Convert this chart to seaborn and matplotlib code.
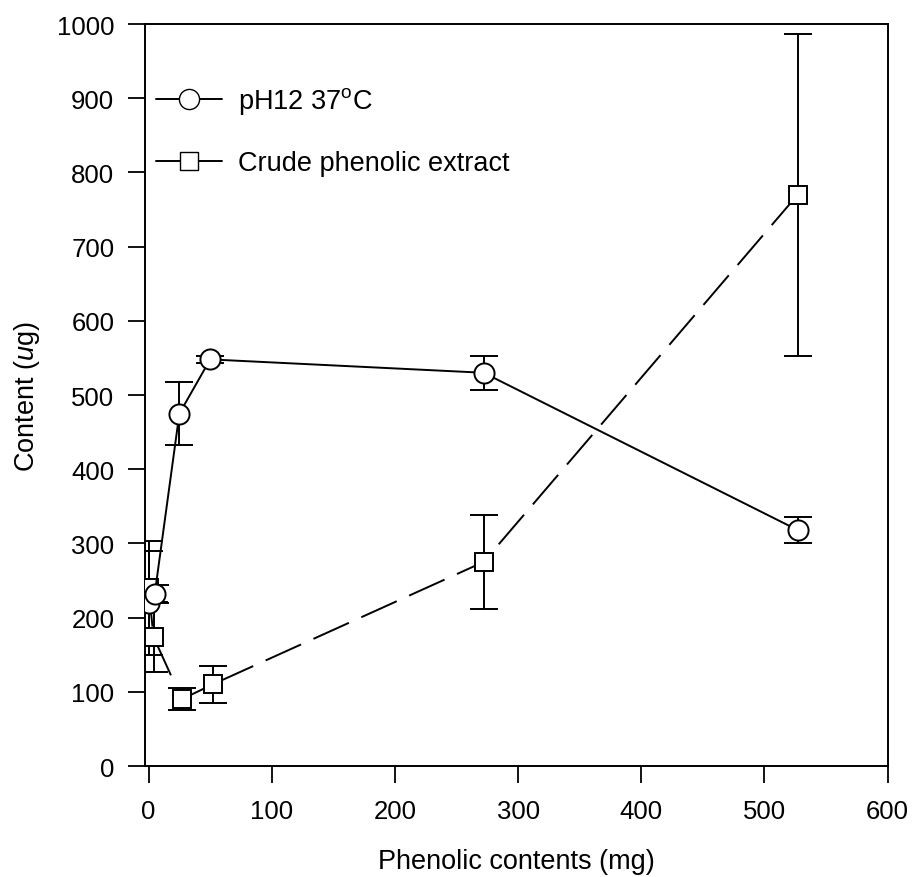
import numpy as np
import pandas as pd
import matplotlib
matplotlib.use("Agg")
import matplotlib.pyplot as plt
import seaborn as sns
from matplotlib.lines import Line2D

# ---- data ----
ph_x = [0, 5, 25, 50, 272, 527]
ph_y = [220, 232, 475, 548, 530, 318]
ph_err = [70, 12, 43, 5, 23, 18]

crude_x = [0, 4, 27, 52, 272, 527]
crude_y = [240, 174, 90, 110, 275, 770]
crude_err = [63, 47, 15, 25, 63, 217]

x_ticks = [0, 100, 200, 300, 400, 500, 600]
y_ticks = [0, 100, 200, 300, 400, 500, 600, 700, 800, 900, 1000]
series_names = [r"pH12 37$^{\mathrm{o}}$C", "Crude phenolic extract"]

sns.set_style("ticks")
plt.rcParams["font.family"] = ["Liberation Sans", "DejaVu Sans"]
plt.rcParams["mathtext.fontset"] = "custom"
plt.rcParams["mathtext.rm"] = "Liberation Sans"
plt.rcParams["mathtext.it"] = "Liberation Sans:italic"
plt.rcParams["text.color"] = "black"
plt.rcParams["axes.labelcolor"] = "black"

fig = plt.figure(figsize=(9.17, 8.78), dpi=100)
ax = fig.add_axes([0.158, 0.1264, 0.810, 0.8451])

df_ph = pd.DataFrame({"x": ph_x, "y": ph_y})
df_cr = pd.DataFrame({"x": crude_x, "y": crude_y})

lw = 1.4
# error bars
ax.errorbar(crude_x, crude_y, yerr=crude_err, fmt="none", ecolor="black",
            elinewidth=lw, capsize=10, capthick=lw, zorder=2)
ax.errorbar(ph_x, ph_y, yerr=ph_err, fmt="none", ecolor="black",
            elinewidth=lw, capsize=10, capthick=lw, zorder=2)

sns.lineplot(data=df_cr, x="x", y="y", ax=ax, color="black", lw=lw,
             marker="s", markersize=12.5, markerfacecolor="white",
             markeredgecolor="black", markeredgewidth=lw, sort=False,
             zorder=3)
ax.lines[-1].set_dashes((20, 7))
sns.lineplot(data=df_ph, x="x", y="y", ax=ax, color="black", lw=lw,
             marker="o", markersize=14.5, markerfacecolor="white",
             markeredgecolor="black", markeredgewidth=lw, sort=False,
             zorder=4)

ax.set_xlim(-3, 600)
ax.set_ylim(0, 1000)
ax.set_xticks(x_ticks)
ax.set_yticks(y_ticks)
ax.tick_params(axis="both", direction="out", length=12, width=1.3,
               labelsize=18.5, colors="black")
ax.tick_params(axis="x", pad=12)
ax.tick_params(axis="y", pad=10)
for s in ax.spines.values():
    s.set_visible(True)
    s.set_linewidth(1.4)
    s.set_color("black")

ax.set_xlabel("Phenolic contents (mg)", fontsize=19.5, labelpad=18)
ax.set_ylabel(r"Content ($\mathit{u}$g)", fontsize=19.5, labelpad=11)

handles = [
    Line2D([], [], color="black", lw=lw, marker="o", markersize=14.5,
           markerfacecolor="white", markeredgecolor="black"),
    Line2D([], [], color="black", lw=lw, marker="s", markersize=12.5,
           markerfacecolor="white", markeredgecolor="black"),
]
ax.legend(handles, series_names, loc="upper left", frameon=False,
          fontsize=19.5, handlelength=2.45, borderaxespad=0.0,
          labelspacing=1.25, handletextpad=0.6, bbox_to_anchor=(0.0, 0.932))

fig.savefig("out.png", dpi=100)
